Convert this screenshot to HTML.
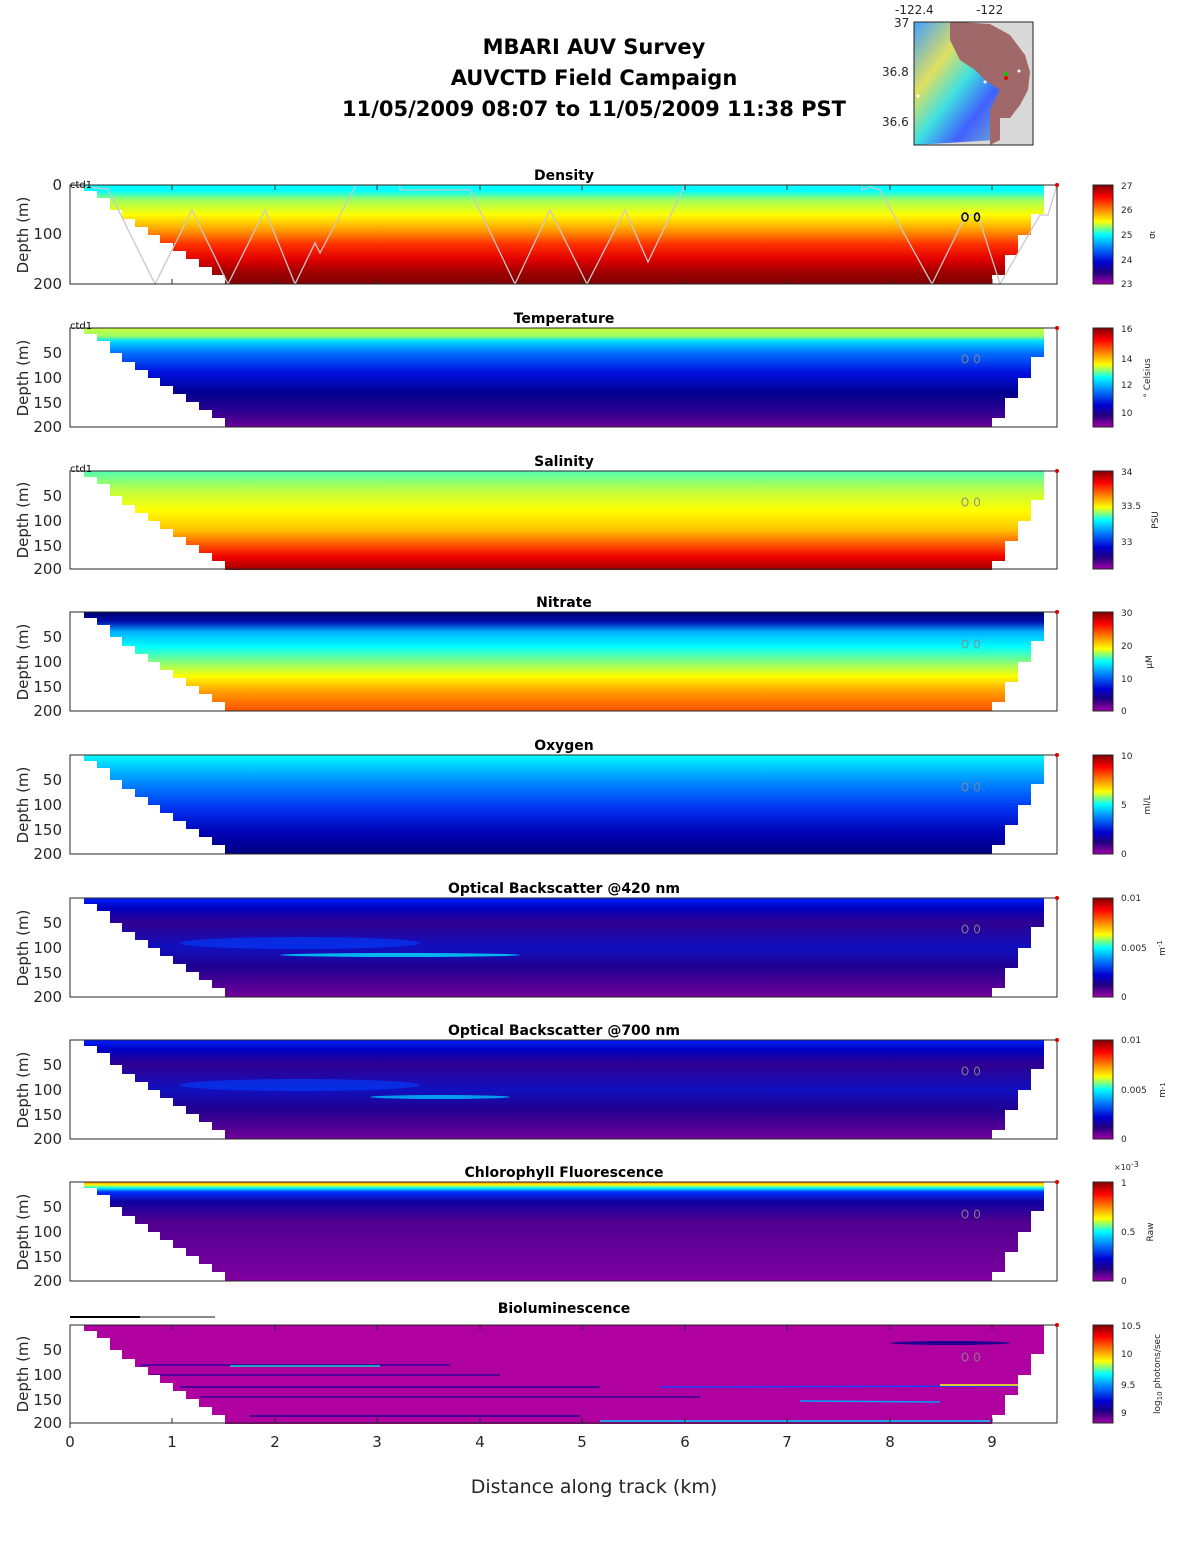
<!DOCTYPE html>
<html><head><meta charset="utf-8"><style>
body{margin:0;background:#fff}
svg{display:block;font-family:"DejaVu Sans","Liberation Sans",sans-serif}
.t{font-size:15px;fill:#262626}
.cb{font-size:9px;fill:#262626}
.ti{font-size:14px;font-weight:bold;fill:#000}
</style></head><body>
<svg width="1188" height="1548" viewBox="0 0 1188 1548" xmlns="http://www.w3.org/2000/svg">
<defs>
<clipPath id="cp" clipPathUnits="userSpaceOnUse">
<polygon points="84,0 1044,0 1044,29 1031,29 1031,50 1018,50 1018,70 1005,70 1005,90 992,90 992,99 225,99 225,90 212,90 212,82 199,82 199,74 186,74 186,66 173,66 173,58 160,58 160,50 148,50 148,42 135,42 135,34 122,34 122,25 110,25 110,13 97,13 97,6 84,6"/>
</clipPath>
<linearGradient id="jet" x1="0" y1="0" x2="0" y2="1">
<stop offset="0" stop-color="#800000"/><stop offset="0.12" stop-color="#ff0000"/><stop offset="0.37" stop-color="#ffff00"/><stop offset="0.5" stop-color="#00ffff"/><stop offset="0.63" stop-color="#0080ff"/><stop offset="0.78" stop-color="#0000d0"/><stop offset="0.88" stop-color="#200080"/><stop offset="1" stop-color="#a000a8"/>
</linearGradient>
<linearGradient id="g1" x1="0" y1="0" x2="0" y2="1">
<stop offset="0" stop-color="#00ffff"/><stop offset="0.06" stop-color="#00ffff"/><stop offset="0.15" stop-color="#a0ff60"/><stop offset="0.3" stop-color="#ffff00"/><stop offset="0.45" stop-color="#ffa000"/><stop offset="0.6" stop-color="#ff3000"/><stop offset="0.75" stop-color="#e00000"/><stop offset="0.88" stop-color="#a00000"/><stop offset="1" stop-color="#800000"/>
</linearGradient>
<linearGradient id="g2" x1="0" y1="0" x2="0" y2="1">
<stop offset="0" stop-color="#c8ff40"/><stop offset="0.08" stop-color="#a0ff60"/><stop offset="0.13" stop-color="#00e0ff"/><stop offset="0.25" stop-color="#0070ff"/><stop offset="0.45" stop-color="#0010e0"/><stop offset="0.65" stop-color="#000090"/><stop offset="0.85" stop-color="#300090"/><stop offset="1" stop-color="#6a0098"/>
</linearGradient>
<linearGradient id="g3" x1="0" y1="0" x2="0" y2="1">
<stop offset="0" stop-color="#50ffb0"/><stop offset="0.2" stop-color="#c0ff40"/><stop offset="0.4" stop-color="#ffff00"/><stop offset="0.6" stop-color="#ffc000"/><stop offset="0.75" stop-color="#ff5000"/><stop offset="0.87" stop-color="#f00000"/><stop offset="1" stop-color="#a00000"/>
</linearGradient>
<linearGradient id="g4" x1="0" y1="0" x2="0" y2="1">
<stop offset="0" stop-color="#000070"/><stop offset="0.1" stop-color="#0010b0"/><stop offset="0.2" stop-color="#00b0ff"/><stop offset="0.35" stop-color="#00ffff"/><stop offset="0.5" stop-color="#80ff80"/><stop offset="0.65" stop-color="#ffff00"/><stop offset="0.8" stop-color="#ffa000"/><stop offset="1" stop-color="#ff5000"/>
</linearGradient>
<linearGradient id="g5" x1="0" y1="0" x2="0" y2="1">
<stop offset="0" stop-color="#00ffff"/><stop offset="0.1" stop-color="#00d0ff"/><stop offset="0.3" stop-color="#0080ff"/><stop offset="0.55" stop-color="#0030f0"/><stop offset="0.8" stop-color="#0000b0"/><stop offset="1" stop-color="#000080"/>
</linearGradient>
<linearGradient id="g6" x1="0" y1="0" x2="0" y2="1">
<stop offset="0" stop-color="#0020ff"/><stop offset="0.1" stop-color="#0000c0"/><stop offset="0.25" stop-color="#300090"/><stop offset="0.5" stop-color="#1010c0"/><stop offset="0.7" stop-color="#200090"/><stop offset="1" stop-color="#700098"/>
</linearGradient>
<linearGradient id="g8" x1="0" y1="0" x2="0" y2="1">
<stop offset="0" stop-color="#ff8000"/><stop offset="0.03" stop-color="#ffff00"/><stop offset="0.06" stop-color="#00ffff"/><stop offset="0.1" stop-color="#0030ff"/><stop offset="0.2" stop-color="#1000a0"/><stop offset="0.4" stop-color="#500090"/><stop offset="1" stop-color="#8000a0"/>
</linearGradient>
<linearGradient id="map" x1="0" y1="0" x2="1" y2="1">
<stop offset="0" stop-color="#40a0ff"/><stop offset="0.3" stop-color="#e0e060"/><stop offset="0.5" stop-color="#40e0e0"/><stop offset="0.7" stop-color="#4060ff"/><stop offset="1" stop-color="#80c0c0"/>
</linearGradient>
</defs>

<g font-size="21" font-weight="bold" text-anchor="middle" xml:space="preserve">
<text x="594" y="54">MBARI AUV Survey</text>
<text x="594" y="85">AUVCTD Field Campaign</text>
<text x="594" y="116">11/05/2009 08:07  to 11/05/2009 11:38 PST</text>
</g>

<!-- map -->
<rect x="914" y="22" width="119" height="123" fill="#d8d8d8"/>
<path d="M914,22 L950,22 L960,50 L980,65 L995,60 L1000,80 L1010,90 L1000,110 L995,140 L914,145 Z" fill="url(#map)"/>
<path d="M950,22 L958,22 L990,24 L1010,35 L1025,55 L1030,72 L1028,90 L1020,105 L1010,118 L1000,118 L1000,140 L990,145 L990,110 L1000,90 L985,80 L975,70 L960,60 L950,40 Z" fill="#a06868"/>
<rect x="914" y="22" width="119" height="123" fill="none" stroke="#222" stroke-width="1"/>
<circle cx="1006" cy="74" r="2" fill="#00d000"/><circle cx="1006" cy="78" r="2" fill="#e00000"/>
<circle cx="1019" cy="71" r="1.5" fill="#fff"/><circle cx="985" cy="82" r="1.5" fill="#fff"/><circle cx="918" cy="96" r="1.5" fill="#fff"/>
<text x="895" y="14" font-size="12" fill="#262626">-122.4</text>
<text x="976" y="14" font-size="12" fill="#262626">-122</text>
<text x="894" y="27" font-size="12" fill="#262626">37</text>
<text x="882" y="76" font-size="12" fill="#262626">36.8</text>
<text x="882" y="126" font-size="12" fill="#262626">36.6</text>

<g transform="translate(0,185)">
<rect x="70" y="0" width="987" height="99" fill="url(#g1)" clip-path="url(#cp)"/>
<polyline points="70,0 85,2 108,4 155,99 192,25 228,99 265,25 295,99 315,58 320,68 356,0 400,0 400,5 470,5 515,99 550,25 587,99 625,25 648,77 685,0 862,0 862,5 870,2 880,5 932,99 966,30 978,30 1000,99 1040,30 1048,30 1057,0" fill="none" stroke="#c8c8c8" stroke-width="1.3"/>
<ellipse cx="965" cy="32" rx="3" ry="4" fill="none" stroke="#000" stroke-width="1.5"/><ellipse cx="977" cy="32" rx="2.5" ry="4" fill="none" stroke="#000" stroke-width="1.5"/>
<text x="564" y="-5" text-anchor="middle" class="ti">Density</text>
<text x="70" y="3" font-size="10">ctd1</text>
<text x="62" y="5" text-anchor="end" class="t">0</text>
<text x="62" y="54" text-anchor="end" class="t">100</text>
<text x="62" y="104" text-anchor="end" class="t">200</text>
</g>

<g transform="translate(0,328)">
<rect x="70" y="0" width="987" height="99" fill="url(#g2)" clip-path="url(#cp)"/>
<text x="564" y="-5" text-anchor="middle" class="ti">Temperature</text><text x="70" y="1" font-size="10">ctd1</text>
</g>
<g transform="translate(0,471)">
<rect x="70" y="0" width="987" height="99" fill="url(#g3)" clip-path="url(#cp)"/>
<text x="564" y="-5" text-anchor="middle" class="ti">Salinity</text><text x="70" y="1" font-size="10">ctd1</text>
</g>
<g transform="translate(0,612)">
<rect x="70" y="0" width="987" height="99" fill="url(#g4)" clip-path="url(#cp)"/>
<text x="564" y="-5" text-anchor="middle" class="ti">Nitrate</text>
</g>
<g transform="translate(0,755)">
<rect x="70" y="0" width="987" height="99" fill="url(#g5)" clip-path="url(#cp)"/>
<text x="564" y="-5" text-anchor="middle" class="ti">Oxygen</text>
</g>
<g transform="translate(0,898)">
<rect x="70" y="0" width="987" height="99" fill="url(#g6)" clip-path="url(#cp)"/>
<g clip-path="url(#cp)"><ellipse cx="300" cy="45" rx="120" ry="6" fill="#0040ff" opacity="0.6"/><ellipse cx="400" cy="57" rx="120" ry="2" fill="#00e0ff" opacity="0.8"/></g>
<text x="564" y="-5" text-anchor="middle" class="ti">Optical Backscatter @420 nm</text>
</g>
<g transform="translate(0,1040)">
<rect x="70" y="0" width="987" height="99" fill="url(#g6)" clip-path="url(#cp)"/>
<g clip-path="url(#cp)"><ellipse cx="300" cy="45" rx="120" ry="6" fill="#0040ff" opacity="0.6"/><ellipse cx="440" cy="57" rx="70" ry="2" fill="#00c0ff" opacity="0.8"/></g>
<text x="564" y="-5" text-anchor="middle" class="ti">Optical Backscatter @700 nm</text>
</g>
<g transform="translate(0,1182)">
<rect x="70" y="0" width="987" height="99" fill="url(#g8)" clip-path="url(#cp)"/>
<text x="564" y="-5" text-anchor="middle" class="ti">Chlorophyll Fluorescence</text>
</g>
<g transform="translate(0,1325)">
<rect x="70" y="0" width="987" height="99" fill="#b000a0" clip-path="url(#cp)"/>
<g clip-path="url(#cp)" stroke-width="1.5">
<line x1="140" y1="40" x2="450" y2="40" stroke="#3000a0"/><line x1="230" y1="41" x2="380" y2="41" stroke="#00e0c0"/>
<line x1="150" y1="50" x2="500" y2="50" stroke="#300090"/><line x1="180" y1="62" x2="600" y2="62" stroke="#200090"/>
<line x1="200" y1="72" x2="700" y2="72" stroke="#300090"/><line x1="660" y1="62" x2="1018" y2="61" stroke="#2040ff"/>
<line x1="940" y1="60" x2="1018" y2="60" stroke="#ffff00"/><line x1="800" y1="76" x2="940" y2="77" stroke="#00a0ff"/>
<line x1="600" y1="96" x2="990" y2="96" stroke="#00d0ff"/><line x1="250" y1="91" x2="580" y2="91" stroke="#200090"/>
<ellipse cx="950" cy="18" rx="60" ry="2" fill="#200090" stroke="none"/>
</g>
<line x1="70" y1="-8" x2="215" y2="-8" stroke="#888" stroke-width="2"/><line x1="70" y1="-8" x2="140" y2="-8" stroke="#000" stroke-width="2"/>
<text x="564" y="-12" text-anchor="middle" class="ti">Bioluminescence</text>
</g>

<g fill="none" stroke="#888" stroke-width="1">
<ellipse cx="965" cy="359" rx="3" ry="4"/><ellipse cx="977" cy="359" rx="2.5" ry="4"/>
<ellipse cx="965" cy="502" rx="3" ry="4"/><ellipse cx="977" cy="502" rx="2.5" ry="4"/>
<ellipse cx="965" cy="644" rx="3" ry="4"/><ellipse cx="977" cy="644" rx="2.5" ry="4"/>
<ellipse cx="965" cy="787" rx="3" ry="4"/><ellipse cx="977" cy="787" rx="2.5" ry="4"/>
<ellipse cx="965" cy="929" rx="3" ry="4"/><ellipse cx="977" cy="929" rx="2.5" ry="4"/>
<ellipse cx="965" cy="1071" rx="3" ry="4"/><ellipse cx="977" cy="1071" rx="2.5" ry="4"/>
<ellipse cx="965" cy="1214" rx="3" ry="4"/><ellipse cx="977" cy="1214" rx="2.5" ry="4"/>
<ellipse cx="965" cy="1357" rx="3" ry="4"/><ellipse cx="977" cy="1357" rx="2.5" ry="4"/>
</g>

<g fill="none" stroke="#262626" stroke-width="1">
<rect x="70" y="185" width="987" height="99"/><rect x="70" y="328" width="987" height="99"/>
<rect x="70" y="471" width="987" height="98"/><rect x="70" y="612" width="987" height="99"/>
<rect x="70" y="755" width="987" height="99"/><rect x="70" y="898" width="987" height="99"/>
<rect x="70" y="1040" width="987" height="99"/><rect x="70" y="1182" width="987" height="99"/>
<rect x="70" y="1325" width="987" height="98"/>
</g>
<g stroke="#262626" stroke-width="1">
<path d="M172,185v5M275,185v5M377,185v5M480,185v5M582,185v5M685,185v5M787,185v5M890,185v5M992,185v5M172,284v-5M275,284v-5M377,284v-5M480,284v-5M582,284v-5M685,284v-5M787,284v-5M890,284v-5M992,284v-5"/>
<path d="M172,1325v5M275,1325v5M377,1325v5M480,1325v5M582,1325v5M685,1325v5M787,1325v5M890,1325v5M992,1325v5M70,1423v5M172,1423v-5M275,1423v-5M377,1423v-5M480,1423v-5M582,1423v-5M685,1423v-5M787,1423v-5M890,1423v-5M992,1423v-5"/>
</g>
<g fill="#e00000"><circle cx="1057" cy="185" r="2"/><circle cx="1057" cy="328" r="2"/><circle cx="1057" cy="471" r="2"/><circle cx="1057" cy="612" r="2"/><circle cx="1057" cy="755" r="2"/><circle cx="1057" cy="898" r="2"/><circle cx="1057" cy="1040" r="2"/><circle cx="1057" cy="1182" r="2"/><circle cx="1057" cy="1325" r="2"/></g>

<g class="t" text-anchor="end">
<text x="62" y="358">50</text><text x="62" y="383">100</text><text x="62" y="408">150</text><text x="62" y="432">200</text>
<text x="62" y="501">50</text><text x="62" y="526">100</text><text x="62" y="551">150</text><text x="62" y="574">200</text>
<text x="62" y="642">50</text><text x="62" y="667">100</text><text x="62" y="692">150</text><text x="62" y="716">200</text>
<text x="62" y="785">50</text><text x="62" y="810">100</text><text x="62" y="835">150</text><text x="62" y="859">200</text>
<text x="62" y="928">50</text><text x="62" y="953">100</text><text x="62" y="978">150</text><text x="62" y="1002">200</text>
<text x="62" y="1070">50</text><text x="62" y="1095">100</text><text x="62" y="1120">150</text><text x="62" y="1144">200</text>
<text x="62" y="1212">50</text><text x="62" y="1237">100</text><text x="62" y="1262">150</text><text x="62" y="1286">200</text>
<text x="62" y="1355">50</text><text x="62" y="1380">100</text><text x="62" y="1405">150</text><text x="62" y="1428">200</text>
</g>
<g class="t" text-anchor="middle">
<text transform="translate(28,235) rotate(-90)">Depth (m)</text>
<text transform="translate(28,378) rotate(-90)">Depth (m)</text>
<text transform="translate(28,520) rotate(-90)">Depth (m)</text>
<text transform="translate(28,662) rotate(-90)">Depth (m)</text>
<text transform="translate(28,805) rotate(-90)">Depth (m)</text>
<text transform="translate(28,948) rotate(-90)">Depth (m)</text>
<text transform="translate(28,1090) rotate(-90)">Depth (m)</text>
<text transform="translate(28,1232) rotate(-90)">Depth (m)</text>
<text transform="translate(28,1374) rotate(-90)">Depth (m)</text>
<text x="70" y="1447">0</text><text x="172" y="1447">1</text><text x="275" y="1447">2</text><text x="377" y="1447">3</text><text x="480" y="1447">4</text><text x="582" y="1447">5</text><text x="685" y="1447">6</text><text x="787" y="1447">7</text><text x="890" y="1447">8</text><text x="992" y="1447">9</text>
</g>
<text x="594" y="1493" text-anchor="middle" font-size="19" fill="#262626">Distance along track (km)</text>

<g stroke="#262626" stroke-width="1">
<rect x="1093" y="185" width="20" height="99" fill="url(#jet)"/>
<rect x="1093" y="328" width="20" height="99" fill="url(#jet)"/>
<rect x="1093" y="471" width="20" height="98" fill="url(#jet)"/>
<rect x="1093" y="612" width="20" height="99" fill="url(#jet)"/>
<rect x="1093" y="755" width="20" height="99" fill="url(#jet)"/>
<rect x="1093" y="898" width="20" height="99" fill="url(#jet)"/>
<rect x="1093" y="1040" width="20" height="99" fill="url(#jet)"/>
<rect x="1093" y="1182" width="20" height="99" fill="url(#jet)"/>
<rect x="1093" y="1325" width="20" height="98" fill="url(#jet)"/>
</g>
<g class="cb">
<text x="1121" y="189">27</text><text x="1121" y="213">26</text><text x="1121" y="238">25</text><text x="1121" y="263">24</text><text x="1121" y="287">23</text>
<text x="1121" y="332">16</text><text x="1121" y="362">14</text><text x="1121" y="388">12</text><text x="1121" y="416">10</text>
<text x="1121" y="475">34</text><text x="1121" y="509">33.5</text><text x="1121" y="545">33</text>
<text x="1121" y="616">30</text><text x="1121" y="649">20</text><text x="1121" y="682">10</text><text x="1121" y="714">0</text>
<text x="1121" y="759">10</text><text x="1121" y="808">5</text><text x="1121" y="857">0</text>
<text x="1121" y="901">0.01</text><text x="1121" y="951">0.005</text><text x="1121" y="1000">0</text>
<text x="1121" y="1043">0.01</text><text x="1121" y="1093">0.005</text><text x="1121" y="1142">0</text>
<text x="1114" y="1170" font-size="8">×10<tspan dy="-3">-3</tspan></text>
<text x="1121" y="1186">1</text><text x="1121" y="1235">0.5</text><text x="1121" y="1284">0</text>
<text x="1121" y="1329">10.5</text><text x="1121" y="1357">10</text><text x="1121" y="1388">9.5</text><text x="1121" y="1416">9</text>
<text transform="translate(1155,235) rotate(-90)" text-anchor="middle">σ<tspan font-size="6">t</tspan></text>
<text transform="translate(1150,378) rotate(-90)" text-anchor="middle">° Celsius</text>
<text transform="translate(1158,520) rotate(-90)" text-anchor="middle">PSU</text>
<text transform="translate(1152,662) rotate(-90)" text-anchor="middle">μM</text>
<text transform="translate(1150,805) rotate(-90)" text-anchor="middle">ml/L</text>
<text transform="translate(1165,948) rotate(-90)" text-anchor="middle">m<tspan dy="-3" font-size="7">-1</tspan></text>
<text transform="translate(1165,1090) rotate(-90)" text-anchor="middle">m<tspan font-size="7">-1</tspan></text>
<text transform="translate(1153,1232) rotate(-90)" text-anchor="middle">Raw</text>
<text transform="translate(1160,1374) rotate(-90)" text-anchor="middle">log<tspan font-size="7" dy="2">10</tspan><tspan dy="-2"> photons/sec</tspan></text>
</g>
</svg>
</body></html>
